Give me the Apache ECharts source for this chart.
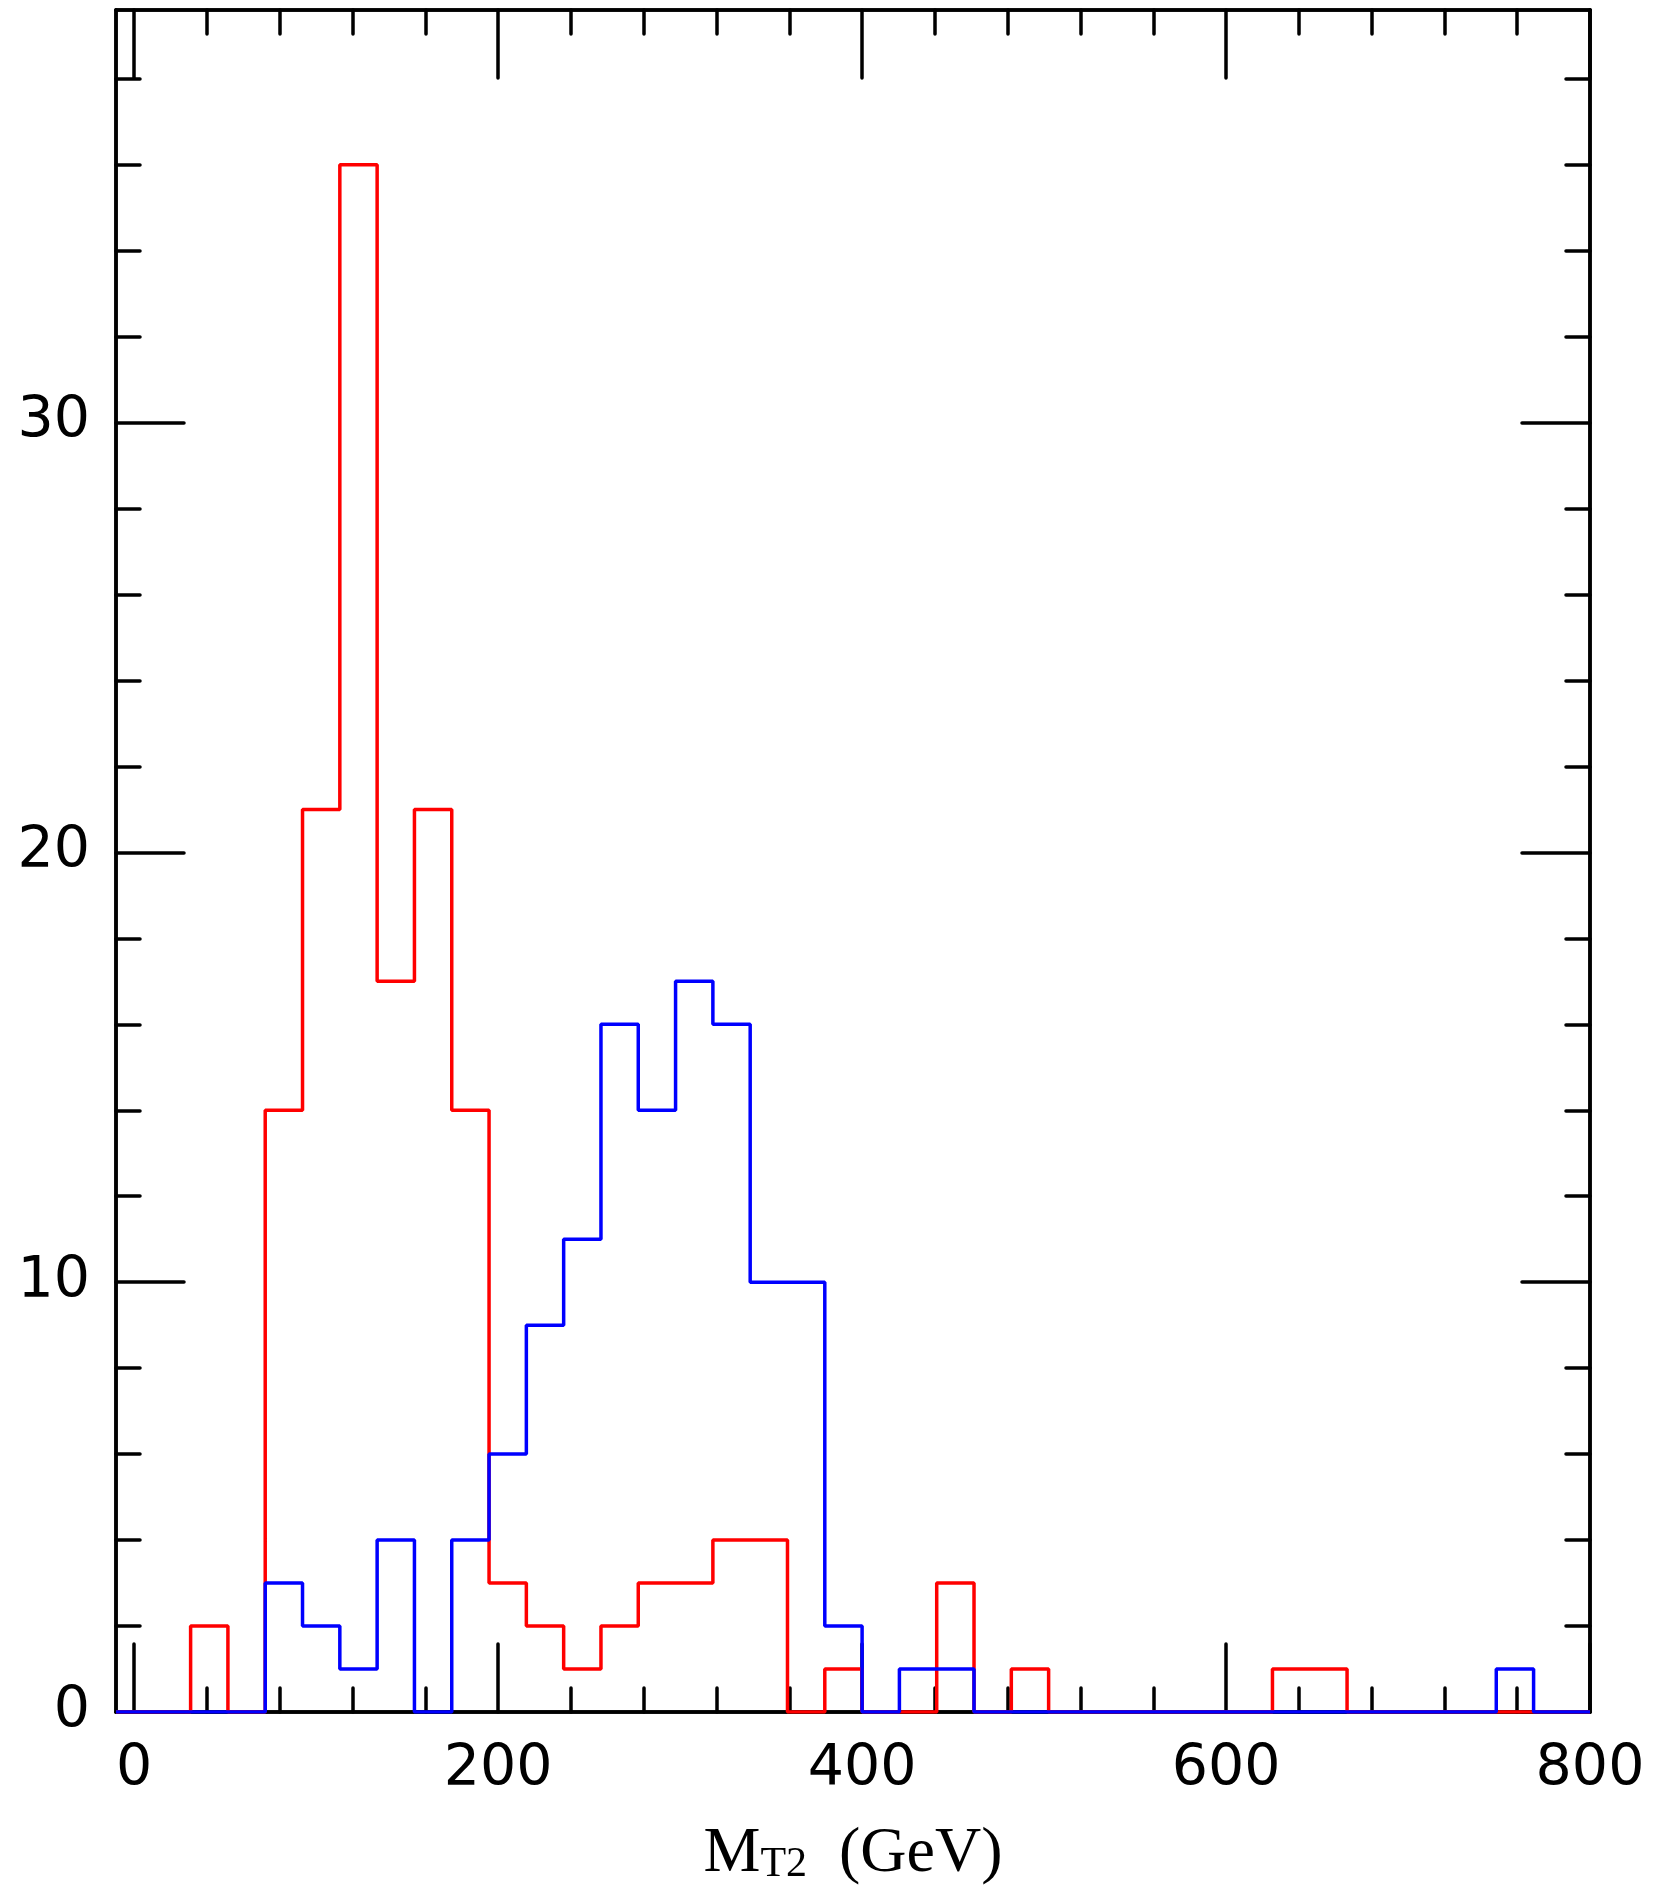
<!DOCTYPE html>
<html>
<head>
<meta charset="utf-8">
<script src="https://cdn.jsdelivr.net/npm/echarts@6/dist/echarts.min.js"></script>
<style>
  html, body { margin: 0; padding: 0; background: #fff; }
  #chart { width: 1654px; height: 1891px; }
</style>
</head>
<body>
<div id="chart"></div>
<script>
// bin edges of the MT2 histogram (GeV)
const binEdges = [-10, 10.5, 31, 51.5, 72, 92.5, 113, 133.5, 154, 174.5,
  195, 215.5, 236, 256.5, 277, 297.5, 318, 338.5, 359, 379.5,
  400, 420.5, 441, 461.5, 482, 502.5, 523, 543.5, 564, 584.5,
  605, 625.5, 646, 666.5, 687, 707.5, 728, 748.5, 769, 789.5, 800];

// counts per bin
const redCounts = [0, 0, 2, 0, 14, 21, 36, 17, 21, 14,
  3, 2, 1, 2, 3, 3, 4, 4, 0, 1,
  0, 0, 3, 0, 1, 0, 0, 0, 0, 0,
  0, 1, 1, 0, 0, 0, 0, 0, 0, 0];
const blueCounts = [0, 0, 0, 0, 3, 2, 1, 4, 0, 4,
  6, 9, 11, 16, 14, 17, 16, 10, 10, 2,
  0, 1, 1, 0, 0, 0, 0, 0, 0, 0,
  0, 0, 0, 0, 0, 0, 0, 1, 0, 0];

const xMajorTicks = [0, 200, 400, 600, 800];
const xMinorTicks = [40, 80, 120, 160, 240, 280, 320, 360, 440, 480, 520, 560, 640, 680, 720, 760];
const yMajorTicks = [0, 10, 20, 30];
const yMinorTicks = [2, 4, 6, 8, 12, 14, 16, 18, 22, 24, 26, 28, 32, 34, 36, 38];

function stepData(counts) {
  const pts = counts.map((c, i) => [binEdges[i], c]);
  pts.push([binEdges[binEdges.length - 1], counts[counts.length - 1]]);
  return pts;
}

const labelFont = { fontFamily: 'DejaVu Sans', fontSize: 57, color: '#000' };
const lineBlack = { color: '#000', width: 3.5, cap: 'round' };

function xAxis(pos, ticks, len, withLabel) {
  return {
    type: 'value', position: pos, min: -10, max: 800,
    splitLine: { show: false },
    axisLine: { onZero: false, lineStyle: lineBlack },
    axisTick: { inside: true, length: len, customValues: ticks, lineStyle: lineBlack },
    axisLabel: withLabel
      ? Object.assign({ customValues: ticks, margin: 30 }, labelFont)
      : { show: false }
  };
}
function yAxis(pos, ticks, len, withLabel) {
  return {
    type: 'value', position: pos, min: 0, max: 39.6,
    splitLine: { show: false },
    axisLine: { onZero: false, lineStyle: lineBlack },
    axisTick: { inside: true, length: len, customValues: ticks, lineStyle: lineBlack },
    axisLabel: withLabel
      ? Object.assign({ customValues: ticks, margin: 26 }, labelFont)
      : { show: false }
  };
}

const xs = [
  xAxis('bottom', xMajorTicks, 68, true),
  xAxis('bottom', xMinorTicks, 24, false),
  xAxis('top', xMajorTicks, 68, false),
  xAxis('top', xMinorTicks, 24, false)
];
xs[0].name = '{m|M}{t|T2}{m|  (GeV)}';
xs[0].nameLocation = 'middle';
xs[0].nameGap = 110;
xs[0].nameTextStyle = {
  rich: {
    m: { fontFamily: 'Liberation Serif', fontSize: 64, lineHeight: 64, color: '#000', verticalAlign: 'bottom' },
    t: { fontFamily: 'Liberation Serif', fontSize: 42, lineHeight: 52, color: '#000', verticalAlign: 'bottom' }
  }
};

const chart = echarts.init(document.getElementById('chart'));
chart.setOption({
  animation: false,
  backgroundColor: '#fff',
  grid: { left: 116, right: 64, top: 10, bottom: 179, outerBoundsMode: 'none' },
  xAxis: xs,
  yAxis: [
    yAxis('left', yMajorTicks, 68, true),
    yAxis('left', yMinorTicks, 24, false),
    yAxis('right', yMajorTicks, 68, false),
    yAxis('right', yMinorTicks, 24, false)
  ],
  series: [
    {
      type: 'line', step: 'end', showSymbol: false, xAxisIndex: 0, yAxisIndex: 0,
      data: stepData(redCounts),
      lineStyle: { color: '#ff0000', width: 3.5 }
    },
    {
      type: 'line', step: 'end', showSymbol: false, xAxisIndex: 0, yAxisIndex: 0,
      data: stepData(blueCounts),
      lineStyle: { color: '#0000ff', width: 3.5 }
    }
  ]
});
</script>
</body>
</html>
